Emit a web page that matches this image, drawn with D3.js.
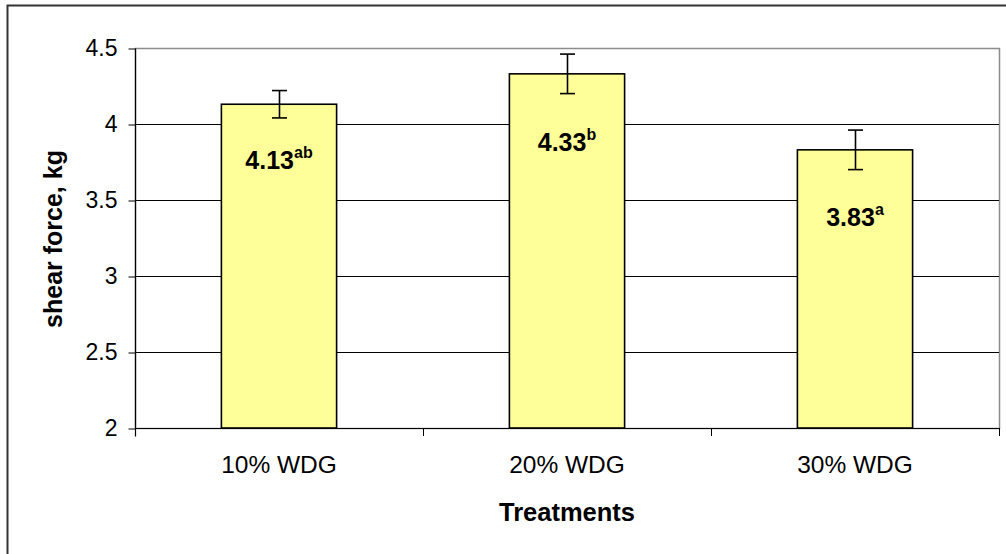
<!DOCTYPE html>
<html>
<head>
<meta charset="utf-8">
<script src="https://cdn.jsdelivr.net/npm/d3@7"></script>
<style>
  html, body { margin: 0; padding: 0; background: #fff; }
  svg { display: block; font-family: Arial, "Liberation Sans", sans-serif; }
</style>
</head>
<body>
<svg id="chart" width="1006" height="554"></svg>
<script>
// ---- data ----
const categories = ["10% WDG", "20% WDG", "30% WDG"];
const means = [4.13, 4.33, 3.83];
const errors = [0.09, 0.13, 0.13];
const letters = ["ab", "b", "a"];
const yTicks = [2, 2.5, 3, 3.5, 4, 4.5];
const yTickLabels = ["2", "2.5", "3", "3.5", "4", "4.5"];
const yTitle = "shear force, kg";
const xTitle = "Treatments";

// ---- layout ----
const svg = d3.select("#chart");
const plot = { left: 135, right: 999, top: 48, bottom: 428 };

const x = d3.scaleBand().domain(categories).range([plot.left, plot.right]).paddingInner(0.6).paddingOuter(0.3);
const xOuter = d3.scaleBand().domain(categories).range([plot.left, plot.right]);
const y = d3.scaleLinear().domain([2, 4.5]).range([plot.bottom, plot.top]);

// outer chart border
svg.append("rect")
  .attr("x", 7.5).attr("y", 5.5).attr("width", 1010).attr("height", 560)
  .attr("fill", "none").attr("stroke", "#333").attr("stroke-width", 2);

// plot area border (gray)
svg.append("rect")
  .attr("x", plot.left + 0.5).attr("y", y(4.5) + 0.5)
  .attr("width", plot.right - plot.left).attr("height", plot.bottom - plot.top)
  .attr("fill", "none").attr("stroke", "#8c8c8c").attr("stroke-width", 1.5);

// gridlines
svg.append("g").selectAll("line")
  .data(yTicks.filter(d => d > 2 && d < 4.5))
  .join("line")
  .attr("x1", plot.left).attr("x2", plot.right)
  .attr("y1", d => Math.round(y(d)) + 0.5).attr("y2", d => Math.round(y(d)) + 0.5)
  .attr("stroke", "#000").attr("stroke-width", 1);

// y axis
const yAxis = d3.axisLeft(y).tickValues(yTicks)
  .tickFormat((d, i) => yTickLabels[i]).tickSize(7).tickPadding(11);
const yg = svg.append("g").attr("transform", `translate(${plot.left + 0.5},0.5)`).call(yAxis);
yg.select(".domain").attr("stroke", "#000").attr("stroke-width", 1.2).attr("d", `M0,${plot.top}V${plot.bottom + 8}`);
yg.selectAll(".tick line").attr("stroke", "#000");
yg.selectAll(".tick text").attr("font-size", 23).attr("fill", "#000").attr("font-family", "Arial, 'Liberation Sans', sans-serif");

// x axis (ticks between categories)
svg.append("line")
  .attr("x1", plot.left).attr("x2", plot.right)
  .attr("y1", plot.bottom + 0.5).attr("y2", plot.bottom + 0.5)
  .attr("stroke", "#000").attr("stroke-width", 1.2);
const boundaries = categories.map(c => xOuter(c)).concat([plot.right]);
svg.append("g").selectAll("line").data(boundaries).join("line")
  .attr("x1", d => Math.round(d) + 0.5).attr("x2", d => Math.round(d) + 0.5)
  .attr("y1", plot.bottom).attr("y2", plot.bottom + 8)
  .attr("stroke", "#000").attr("stroke-width", 1);
svg.append("g").selectAll("text").data(categories).join("text")
  .attr("x", d => xOuter(d) + xOuter.bandwidth() / 2)
  .attr("y", 473)
  .attr("text-anchor", "middle").attr("font-size", 24.5).attr("fill", "#000")
  .text(d => d);

// bars
svg.append("g").selectAll("rect").data(categories).join("rect")
  .attr("x", d => x(d)).attr("width", x.bandwidth())
  .attr("y", (d, i) => y(means[i])).attr("height", (d, i) => y(2) - y(means[i]))
  .attr("fill", "#FFFF99").attr("stroke", "#000").attr("stroke-width", 1.6);

// error bars
const eg = svg.append("g").attr("stroke", "#000").attr("stroke-width", 1.6);
categories.forEach((c, i) => {
  const cx = Math.round(x(c) + x.bandwidth() / 2) + 0.5;
  const top = y(means[i] + errors[i]), bot = y(means[i] - errors[i]);
  eg.append("line").attr("x1", cx).attr("x2", cx).attr("y1", top).attr("y2", bot);
  eg.append("line").attr("x1", cx - 7.5).attr("x2", cx + 7.5).attr("y1", top).attr("y2", top);
  eg.append("line").attr("x1", cx - 7.5).attr("x2", cx + 7.5).attr("y1", bot).attr("y2", bot);
});

// value labels with superscript letters
const labelDrop = [65, 77, 76];
categories.forEach((c, i) => {
  const t = svg.append("text")
    .attr("x", x(c) + x.bandwidth() / 2)
    .attr("y", y(means[i]) + labelDrop[i])
    .attr("text-anchor", "middle").attr("font-weight", "bold").attr("font-size", 25).attr("fill", "#000");
  t.append("tspan").text(means[i].toFixed(2));
  t.append("tspan").attr("font-size", 16).attr("dy", -11).text(letters[i]);
});

// axis titles
svg.append("text")
  .attr("transform", "translate(62,239) rotate(-90)")
  .attr("text-anchor", "middle").attr("font-weight", "bold").attr("font-size", 25).attr("fill", "#000")
  .text(yTitle);
svg.append("text")
  .attr("x", (plot.left + plot.right) / 2).attr("y", 521)
  .attr("text-anchor", "middle").attr("font-weight", "bold").attr("font-size", 25.5).attr("fill", "#000")
  .text(xTitle);
</script>
</body>
</html>
